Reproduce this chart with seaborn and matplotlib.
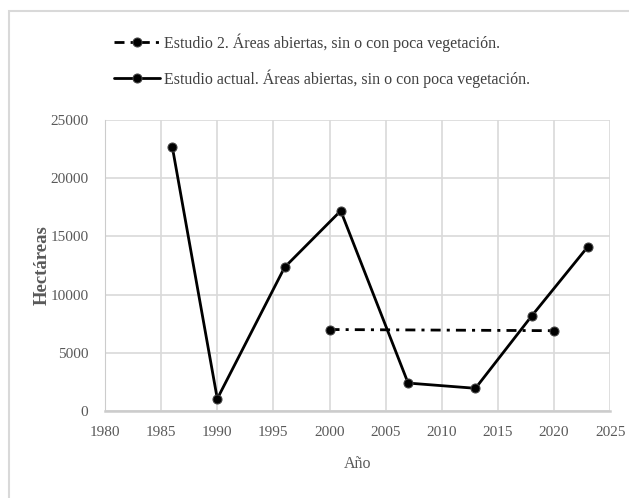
import pandas as pd
import matplotlib.pyplot as plt
import seaborn as sns
from matplotlib.patches import Rectangle

# Data
years_actual = [1986, 1990, 1996, 2001, 2007, 2013, 2018, 2023]
area_actual = [22650, 1050, 12350, 17200, 2400, 1950, 8150, 14100]
years_e2 = [2000, 2020]
area_e2 = [7000, 6900]

label_e2 = 'Estudio 2. Áreas abiertas, sin o con poca vegetación.'
label_actual = 'Estudio actual. Áreas abiertas, sin o con poca vegetación.'

df_actual = pd.DataFrame({'Año': years_actual, 'Hectáreas': area_actual})
df_e2 = pd.DataFrame({'Año': years_e2, 'Hectáreas': area_e2})

sns.set_style('white')
plt.rcParams['font.family'] = ['Liberation Serif', 'DejaVu Serif']
text_col = '#595959'
grid_col = '#d9d9d9'

fig = plt.figure(figsize=(6.29, 4.98), dpi=100)
ax = fig.add_axes([0.167, 0.1747, 0.803, 0.5843])

sns.lineplot(data=df_e2, x='Año', y='Hectáreas', ax=ax, color='black', lw=2,
             marker='o', markersize=6.5, markeredgecolor='#444444',
             dashes=False, label=label_e2)
ax.lines[-1].set_dashes((3.6, 2.2, 1.1, 2.2))
sns.lineplot(data=df_actual, x='Año', y='Hectáreas', ax=ax, color='black', lw=2,
             marker='o', markersize=6.5, markeredgecolor='#444444',
             label=label_actual)

ax.set_xlim(1980, 2025)
ax.set_ylim(0, 25000)
ax.set_xticks(range(1980, 2026, 5))
ax.set_yticks(range(0, 25001, 5000))
ax.grid(True, color=grid_col, lw=1.2)
ax.set_axisbelow(True)
for s in ax.spines.values():
    s.set_visible(False)
ax.spines['left'].set_visible(True)
ax.spines['bottom'].set_visible(True)
ax.spines['left'].set_color('#cccccc')
ax.spines['bottom'].set_color('#cccccc')
ax.spines['bottom'].set_linewidth(1.8)
ax.tick_params(axis='both', length=0, labelsize=11, labelcolor=text_col)
ax.tick_params(axis='y', pad=12)
ax.tick_params(axis='x', pad=11)
ax.set_xlabel('Año', fontsize=11.5, color=text_col, labelpad=12)
ax.set_ylabel('Hectáreas', fontsize=13.5, color=text_col, fontweight='bold')
ax.yaxis.set_label_coords(-0.108, 0.5)

ax.get_legend().remove()
handles, labels = ax.get_legend_handles_labels()
fig.legend(handles, labels, loc='upper left', bbox_to_anchor=(0.158, 0.962),
           frameon=False, fontsize=11.5, labelcolor='#404040',
           handlelength=2.9, handletextpad=0.25, labelspacing=1.1)

# light outer frame
fig.patches.append(Rectangle((9 / 629, -0.1), 1.2, 1.1 - 11 / 498,
                             transform=fig.transFigure, fill=False,
                             edgecolor=grid_col, lw=1.5))

fig.savefig('out.png', dpi=100)
